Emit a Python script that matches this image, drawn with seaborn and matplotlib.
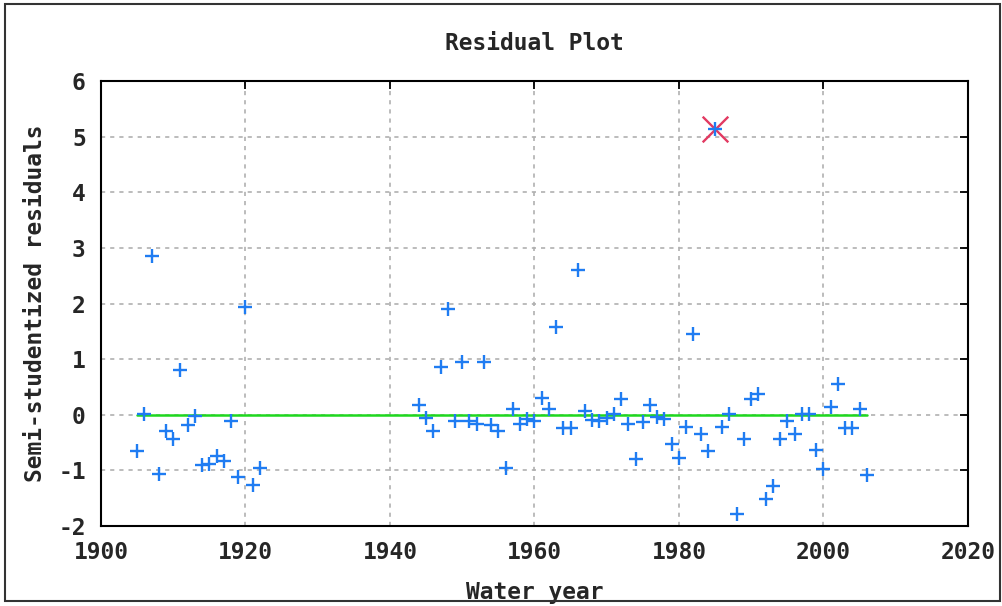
import numpy as np
import pandas as pd
import matplotlib
matplotlib.use("Agg")
import matplotlib.pyplot as plt
from matplotlib.patches import Rectangle
import seaborn as sns

# ---- data ----
years_early = list(range(1905, 1923))
resid_early = [-0.65, 0.02, 2.86, -1.06, -0.29, -0.44, 0.81, -0.18, -0.02,
               -0.91, -0.89, -0.74, -0.83, -0.11, -1.12, 1.94, -1.27, -0.95]
years_late = list(range(1944, 2007))
resid_late = [0.18, -0.06, -0.30, 0.85, 1.90, -0.12, 0.94, -0.12, -0.16, 0.94,
              -0.18, -0.30, -0.95, 0.10, -0.16, -0.07, -0.11, 0.30, 0.10, 1.57,
              -0.23, -0.23, 2.61, 0.06, -0.10, -0.12, -0.05, 0.02, 0.28, -0.16,
              -0.80, -0.13, 0.18, -0.04, -0.08, -0.53, -0.77, -0.22, 1.46, -0.35,
              -0.65, 5.13, -0.22, 0.02, -1.78, -0.44, 0.28, 0.37, -1.52, -1.28,
              -0.44, -0.11, -0.34, 0.02, 0.02, -0.64, -0.97, 0.14, 0.56, -0.23,
              -0.23, 0.10, -1.08]
outlier_year = [1985]
outlier_value = [5.13]
x_ticks = [1900, 1920, 1940, 1960, 1980, 2000, 2020]
y_ticks = [-2, -1, 0, 1, 2, 3, 4, 5, 6]
title = "Residual Plot"
x_label = "Water year"
y_label = "Semi-studentized residuals"

df = pd.DataFrame({"year": years_early + years_late,
                   "resid": resid_early + resid_late})
zero_line = pd.DataFrame({"year": [df["year"].min(), df["year"].max()],
                          "resid": [0.0, 0.0]})
out_df = pd.DataFrame({"year": outlier_year, "resid": outlier_value})

sns.set_theme(style="white")
plt.rcParams["font.family"] = ["DejaVu Sans Mono", "DejaVu Sans"]
plt.rcParams["font.weight"] = "bold"

fig = plt.figure(figsize=(10.03, 6.06), dpi=100)
ax = fig.add_axes([0.1007, 0.132, 0.8643, 0.7343])

FS = 16.5

sns.lineplot(data=zero_line, x="year", y="resid", ax=ax, color="#1ed81e",
             linewidth=1.8, zorder=3)
sns.scatterplot(data=out_df, x="year", y="resid", ax=ax, marker="x",
                s=340, color="#e23a62", linewidth=1.7, zorder=4)
sns.scatterplot(data=df, x="year", y="resid", ax=ax, marker="+",
                s=110, color="#1f7cf2", linewidth=1.7, zorder=5)

ax.set_xlim(1900, 2020)
ax.set_ylim(-2, 6)
ax.set_xticks(x_ticks)
ax.set_yticks(y_ticks)
ax.set_xticklabels([str(t) for t in x_ticks], fontsize=FS, fontweight="bold")
ax.set_yticklabels([str(t) for t in y_ticks], fontsize=FS, fontweight="bold")
ax.tick_params(direction="in", top=True, right=True, length=6, width=1.3,
               color="black", pad=11)
ax.grid(True, color="#b0b0b0", linestyle=(0, (2.5, 3)), linewidth=1.2)
for s in ax.spines.values():
    s.set_visible(True)
    s.set_color("black")
    s.set_linewidth(1.5)

ax.set_title(title, fontsize=FS, fontweight="bold", pad=22)
ax.set_xlabel(x_label, fontsize=FS, fontweight="bold", labelpad=12)
ax.set_ylabel(y_label, fontsize=FS, fontweight="bold", labelpad=8)

fig.patches.append(Rectangle((0.005, 0.008), 0.992, 0.986, transform=fig.transFigure,
                             fill=False, edgecolor="#333333", linewidth=1.5))

fig.savefig("out.png", dpi=100)
